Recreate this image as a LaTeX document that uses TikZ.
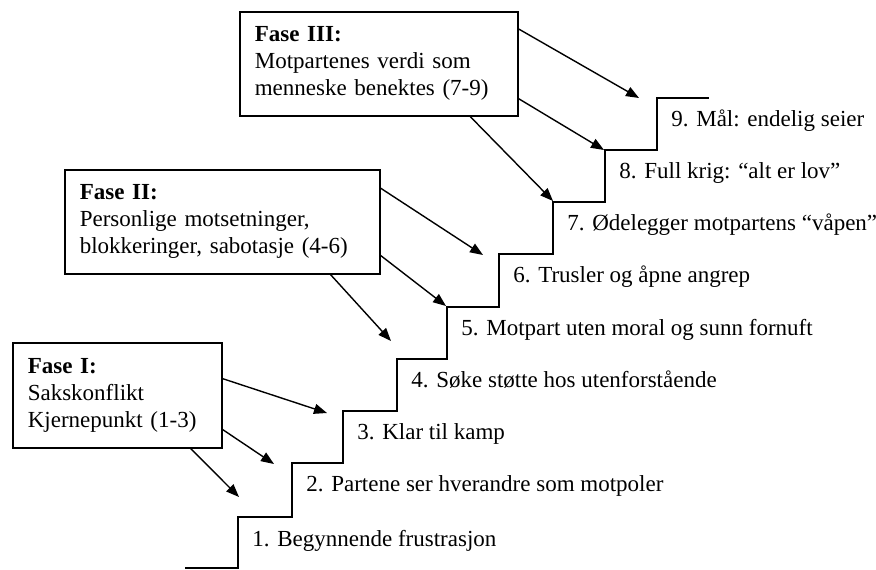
\documentclass[tikz,border=0pt]{standalone}
\usepackage{fontspec}
\setmainfont{Liberation Serif}
\usetikzlibrary{arrows.meta}

\begin{document}
\begin{tikzpicture}[x=0.5pt,y=-0.5pt,
        fase/.style={draw,line width=0.8pt,anchor=north west,align=left,inner xsep=7.5pt,font=\fontsize{11.5}{13.5}\selectfont},
        trinn/.style={anchor=base west,inner sep=0pt,font=\fontsize{11.5}{13.5}\selectfont},
        pil/.style={-{Triangle[length=6.5pt,width=5pt]},line width=0.7pt}]
        \useasboundingbox (0,0) rectangle (876,569);
        \draw[line width=0.9pt] (185,568) -| (238,517) -| (292,463) -| (343,411) -| (397,359) -| (447,307) -| (499,254) -| (553,202) -| (605,150) -| (657,98) -- (709,98);
        \node[trinn] (s1) at (252,546) {1. Begynnende frustrasjon};
        \node[trinn] (s2) at (306,491) {2. Partene ser hverandre som motpoler};
        \node[trinn] (s3) at (357,439) {3. Klar til kamp};
        \node[trinn] (s4) at (411,387) {4. Søke støtte hos utenforstående};
        \node[trinn] (s5) at (461,335) {5. Motpart uten moral og sunn fornuft};
        \node[trinn] (s6) at (513,282) {6. Trusler og åpne angrep};
        \node[trinn] (s7) at (567,230) {7. Ødelegger motpartens “våpen”};
        \node[trinn] (s8) at (619,178) {8. Full krig: “alt er lov”};
        \node[trinn] (s9) at (671,126) {9. Mål: endelig seier};
        \node[fase,minimum width=104.5pt,minimum height=52.5pt,text width=89.5pt] (fase1) at (12,342) {\textbf{Fase I:}\\Sakskonflikt\\Kjernepunkt (1-3)};
        \node[fase,minimum width=157.5pt,minimum height=52pt,text width=142.5pt] (fase2) at (64,169) {\textbf{Fase II:}\\Personlige motsetninger,\\blokkeringer, sabotasje (4-6)};
        \node[fase,minimum width=139pt,minimum height=52pt,text width=124pt] (fase3) at (239,11) {\textbf{Fase III:}\\Motpartenes verdi som\\menneske benektes (7-9)};
        \coordinate (m1a) at (327,413);
        \coordinate (m1b) at (274,464);
        \coordinate (m1c) at (239,497);
        \coordinate (m2a) at (483,255);
        \coordinate (m2b) at (446,306);
        \coordinate (m2c) at (391,341);
        \coordinate (m3a) at (639,98);
        \coordinate (m3b) at (604,150);
        \coordinate (m3c) at (553,201);
        \draw[pil] (fase1.9.5) -- (m1a);
        \draw[pil] (fase1.-18.3) -- (m1b);
        \draw[pil] (fase1.-36.3) -- (m1c);
        \draw[pil] (fase2.12.5) -- (m2a);
        \draw[pil] (fase2.-12.5) -- (m2b);
        \draw[pil] (fase2.-26.2) -- (m2c);
        \draw[pil] (fase3.14.1) -- (m3a);
        \draw[pil] (fase3.-14.1) -- (m3b);
        \draw[pil] (fase3.-30) -- (m3c);
\end{tikzpicture}
\end{document}
